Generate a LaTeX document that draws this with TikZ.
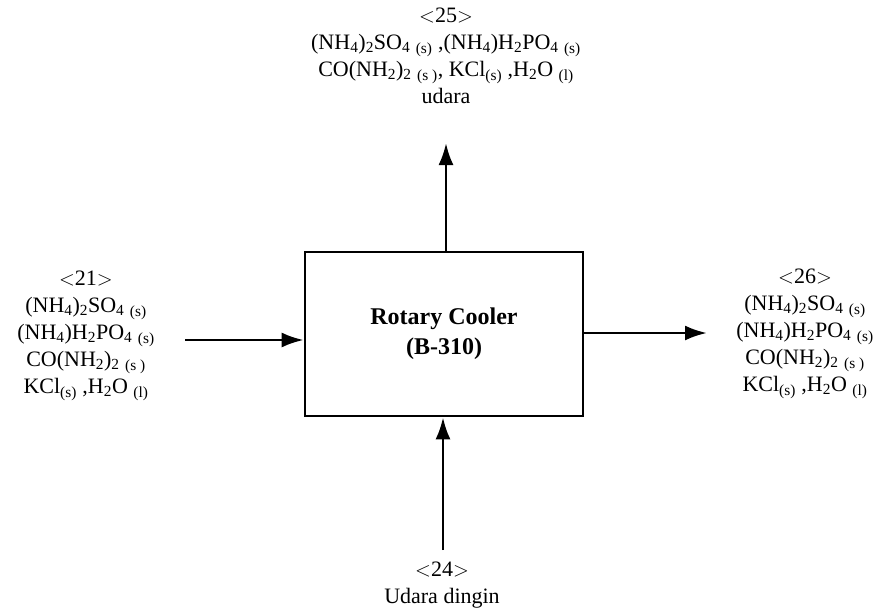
\documentclass[tikz,border=0pt]{standalone}
\usepackage{fontspec}
\setmainfont{Liberation Serif}
\usetikzlibrary{arrows.meta}
\newcommand{\chsub}[1]{\textsubscript{#1}}
\tikzset{
  stream/.style={align=center, font=\fontsize{22}{27}\selectfont},
  unit/.style={draw, line width=2.6pt, minimum width=278pt, minimum height=164pt,
    align=center, font=\fontsize{24}{30}\selectfont\bfseries},
  flow/.style={->, line width=2.8pt}
}
\begin{document}
\begin{tikzpicture}[x=1pt, y=-1pt, >={Latex[length=22pt,width=15pt]}]
		\useasboundingbox (0,0) rectangle (876,610);
		
		% Unit
		\node[unit] (cooler) at (444,334) {Rotary Cooler\\(B-310)};
		
		% Stream labels
		\node[stream] (s25) at (446,56) {$<$25$>$\\
			(NH\chsub{4})\chsub{2}SO\chsub{4} \chsub{(s)} ,(NH\chsub{4})H\chsub{2}PO\chsub{4} \chsub{(s)}\\
			CO(NH\chsub{2})\chsub{2} \chsub{(s )}, KCl\chsub{(s)} ,H\chsub{2}O \chsub{(l)}\\
			udara};
		\node[stream] (s21) at (86,336) {$<$21$>$\\
			(NH\chsub{4})\chsub{2}SO\chsub{4} \chsub{(s)}\\
			(NH\chsub{4})H\chsub{2}PO\chsub{4} \chsub{(s)}\\
			CO(NH\chsub{2})\chsub{2} \chsub{(s )}\\
			KCl\chsub{(s)} ,H\chsub{2}O \chsub{(l)}};
		\node[stream] (s26) at (805,334) {$<$26$>$\\
			(NH\chsub{4})\chsub{2}SO\chsub{4} \chsub{(s)}\\
			(NH\chsub{4})H\chsub{2}PO\chsub{4} \chsub{(s)}\\
			CO(NH\chsub{2})\chsub{2} \chsub{(s )}\\
			KCl\chsub{(s)} ,H\chsub{2}O \chsub{(l)}};
		\node[stream] (s24) at (442,585) {$<$24$>$\\Udara dingin};
		
		% Arrow ends
		\coordinate (in21) at (185,340);
		\coordinate (out26) at (707,333);
		\coordinate (out25) at (446,143);
		\coordinate (in24) at (443,550);
		
		% Streams
		\draw[flow] (in21) -- (cooler.west |- in21);
		\draw[flow] (cooler.east |- out26) -- (out26);
		\draw[flow] (cooler.north -| out25) -- (out25);
		\draw[flow] (in24) -- (cooler.south -| in24);
	\end{tikzpicture}
\end{document}
